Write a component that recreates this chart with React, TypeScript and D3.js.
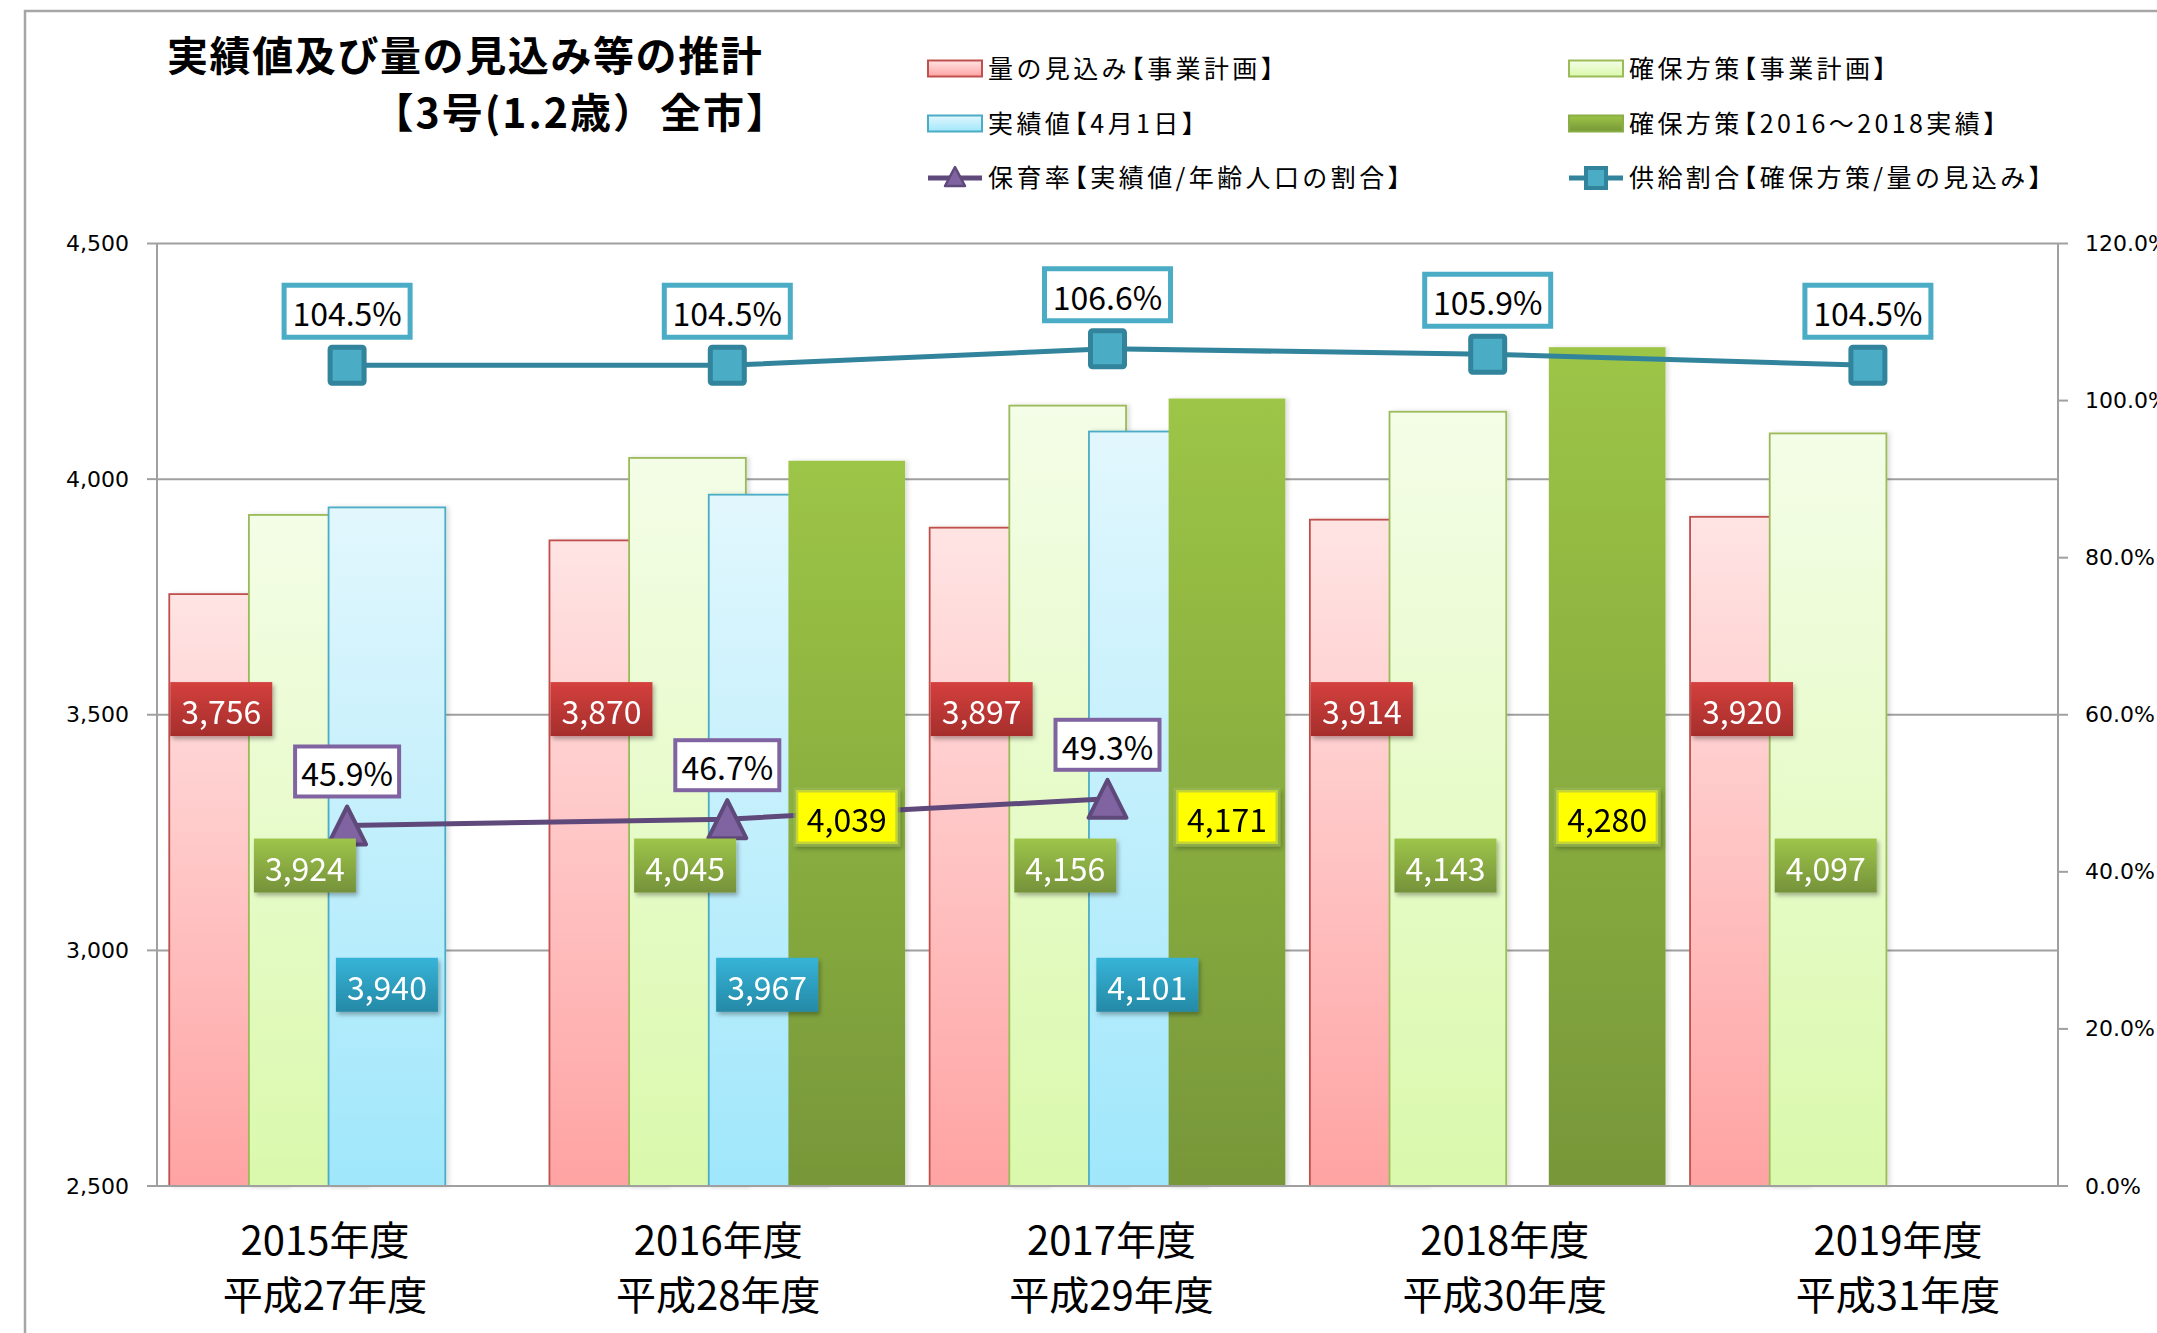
import React from 'react';
import * as d3 from 'd3';

// ---------------- data ----------------
const categories = ['2015年度', '2016年度', '2017年度', '2018年度', '2019年度'];
const eraLabels = ['平成27年度', '平成28年度', '平成29年度', '平成30年度', '平成31年度'];
const demandPlan = [3756, 3870, 3897, 3914, 3920]; // 量の見込み【事業計画】
const supplyPlan = [3924, 4045, 4156, 4143, 4097]; // 確保方策【事業計画】
const actualEnrolled: (number | null)[] = [3940, 3967, 4101, null, null]; // 実績値【4月1日】
const supplyActual: (number | null)[] = [null, 4039, 4171, 4280, null]; // 確保方策【2016～2018実績】
const nurseryRate: (number | null)[] = [0.459, 0.467, 0.493, null, null]; // 保育率
const supplyRatio = [1.045, 1.045, 1.066, 1.059, 1.045]; // 供給割合
const leftDomain = [2500, 4500];
const rightDomain = [0, 1.2];
const titleLine1 = '実績値及び量の見込み等の推計';
const titleLine2a = '【3号(1.2歳）';
const titleLine2b = '全市】';
const legendLabels = [
  '量の見込み【事業計画】',
  '確保方策【事業計画】',
  '実績値【4月1日】',
  '確保方策【2016～2018実績】',
  '保育率【実績値/年齢人口の割合】',
  '供給割合【確保方策/量の見込み】',
];

// ---------------- layout / style ----------------
const W = 2157;
const H = 1333;
const PL = 157, PR = 2058, PT = 243.5, PB = 1186;
const JP = "'Noto Sans CJK JP', 'Noto Sans', sans-serif";
const AX = "'DejaVu Sans', Verdana, sans-serif";

const barStyles = [
  { grad: 'gRed', stroke: '#C0504D', label: 'lRed', text: '#fff', labelLevel: 3512, labelMode: 'left' },
  { grad: 'gLGreen', stroke: '#9BBB59', label: 'lGreen', text: '#fff', labelLevel: 3180, labelMode: 'left' },
  { grad: 'gBlue', stroke: '#4BACC6', label: 'lBlue', text: '#fff', labelLevel: 2927, labelMode: 'center' },
  { grad: 'gDGreen', stroke: 'none', label: 'lYellow', text: '#000', labelLevel: 3283, labelMode: 'center' },
];
const barData = [demandPlan, supplyPlan, actualEnrolled, supplyActual];

// tighten the opening lenticular bracket like a proportional CJK font
const jp = (s: string) =>
  s.split(/(【)/).filter((p) => p !== '').map((p, k) =>
    p === '【' ? (
      <tspan key={k} dx="-0.45em">
        【
      </tspan>
    ) : (
      <tspan key={k}>{p}</tspan>
    )
  );

export default function App() {
  const x = d3.scaleBand<string>().domain(categories).range([PL, PR]).padding(0);
  const y = d3.scaleLinear().domain(leftDomain).range([PB, PT]);
  const y2 = d3.scaleLinear().domain(rightDomain).range([PB, PT]);
  const catLabelX = d3.scalePoint<string>().domain(categories).range([325, 1898]);

  const bw = x.bandwidth();
  const barW = bw * 0.307;
  const step = bw * 0.2095;
  const pad = (bw - (3 * step + barW)) / 2;
  const barLeft = (cat: string, s: number) => (x(cat) as number) + pad + s * step;
  const cx = (cat: string) => (x(cat) as number) + bw / 2;

  const leftTicks = y.ticks(4);
  const rightTicks = y2.ticks(6);
  const fmt = d3.format(',');
  const pfmt = d3.format('.1%');

  const lineGen = d3
    .line<number | null>()
    .defined((d) => d != null)
    .x((_, i) => cx(categories[i]))
    .y((d) => y2(d as number));

  const valueLabel = (key: string, lx: number, ly: number, txt: string, fill: string, color: string, border?: string) => (
    <g key={key} filter="url(#shadow)">
      <rect x={lx - 51} y={ly - 27} width={102} height={54} fill={fill} stroke={border || 'none'} strokeWidth={border ? 5 : 0} strokeOpacity={0.6} />
      <text x={lx} y={ly + 1} textAnchor="middle" dominantBaseline="central" fontFamily={JP} fontSize={32} fill={color}>
        {txt}
      </text>
    </g>
  );

  return (
    <svg width={W} height={H} style={{ position: 'absolute', left: 0, top: 0, background: '#fff' }}>
      <defs>
        <linearGradient id="gRed" x1="0" y1="0" x2="0" y2="1">
          <stop offset="0" stopColor="#FFE4E4" />
          <stop offset="1" stopColor="#FFA3A3" />
        </linearGradient>
        <linearGradient id="gLGreen" x1="0" y1="0" x2="0" y2="1">
          <stop offset="0" stopColor="#F4FDE7" />
          <stop offset="1" stopColor="#DAF9AC" />
        </linearGradient>
        <linearGradient id="gBlue" x1="0" y1="0" x2="0" y2="1">
          <stop offset="0" stopColor="#E2F7FD" />
          <stop offset="1" stopColor="#A0E7FB" />
        </linearGradient>
        <linearGradient id="gDGreen" x1="0" y1="0" x2="0" y2="1">
          <stop offset="0" stopColor="#9DC546" />
          <stop offset="1" stopColor="#779739" />
        </linearGradient>
        <linearGradient id="lRed" x1="0" y1="0" x2="0" y2="1">
          <stop offset="0" stopColor="#D4403D" />
          <stop offset="1" stopColor="#A52E2C" />
        </linearGradient>
        <linearGradient id="lGreen" x1="0" y1="0" x2="0" y2="1">
          <stop offset="0" stopColor="#9EC54A" />
          <stop offset="1" stopColor="#75923A" />
        </linearGradient>
        <linearGradient id="lBlue" x1="0" y1="0" x2="0" y2="1">
          <stop offset="0" stopColor="#36B4D8" />
          <stop offset="1" stopColor="#2589A6" />
        </linearGradient>
        <filter id="shadow" x="-20%" y="-20%" width="140%" height="150%">
          <feDropShadow dx="2" dy="3" stdDeviation="2" floodColor="#000" floodOpacity="0.3" />
        </filter>
        <filter id="barShadow" x="-10%" y="-5%" width="125%" height="110%">
          <feDropShadow dx="3" dy="0" stdDeviation="2" floodColor="#000" floodOpacity="0.12" />
        </filter>
      </defs>

      {/* outer frame */}
      <path d={`M25,${H} V11 H${W}`} fill="none" stroke="#A6A6A6" strokeWidth={2.5} />

      {/* title */}
      <text x={167} y={53} dominantBaseline="central" fontFamily={JP} fontWeight="bold" fontSize={41} letterSpacing={1.6} fill="#000">
        {titleLine1}
      </text>
      <text x={391} y={110} dominantBaseline="central" fontFamily={JP} fontWeight="bold" fontSize={41} letterSpacing={2} fill="#000">
        {jp(titleLine2a)}
        <tspan dx={4}>{titleLine2b}</tspan>
      </text>

      {/* legend */}
      {legendLabels.map((lab, i) => {
        const col = i % 2;
        const row = Math.floor(i / 2);
        const sx = col === 0 ? 928 : 1569;
        const ry = [68.5, 123.5, 178][row];
        let sw: React.ReactNode;
        if (i < 4) {
          const st = barStyles[i];
          sw = <rect x={sx} y={ry - 8} width={54} height={16} fill={`url(#${st.grad})`} stroke={i === 3 ? '#8AAE46' : st.stroke} strokeWidth={2} />;
        } else if (i === 4) {
          sw = (
            <g>
              <line x1={sx} x2={sx + 54} y1={ry} y2={ry} stroke="#5F497A" strokeWidth={5} />
              <path d={`M${sx + 27},${ry - 11} L${sx + 37},${ry + 8} L${sx + 17},${ry + 8} Z`} fill="#8064A2" stroke="#5F497A" strokeWidth={2.5} strokeLinejoin="round" />
            </g>
          );
        } else {
          sw = (
            <g>
              <line x1={sx} x2={sx + 54} y1={ry} y2={ry} stroke="#31849B" strokeWidth={5} />
              <rect x={sx + 17} y={ry - 10} width={20} height={20} fill="#4BACC6" stroke="#31849B" strokeWidth={4} />
            </g>
          );
        }
        return (
          <g key={lab}>
            {sw}
            <text x={sx + 60} y={ry - 2} dominantBaseline="central" fontFamily={JP} fontSize={25} letterSpacing={3.4} fill="#000">
              {jp(lab)}
            </text>
          </g>
        );
      })}

      {/* gridlines */}
      {leftTicks.map((t) => (
        <line key={'g' + t} x1={PL} x2={PR} y1={y(t)} y2={y(t)} stroke="#A0A0A0" strokeWidth={2} />
      ))}

      {/* bars */}
      {barData.map((vals, s) =>
        vals.map((v, i) => {
          if (v == null) return null;
          const st = barStyles[s];
          const bx = barLeft(categories[i], s);
          return (
            <rect
              key={`b${s}-${i}`}
              x={bx}
              y={y(v)}
              width={barW}
              height={y(leftDomain[0]) - y(v)}
              fill={`url(#${st.grad})`}
              stroke={st.stroke}
              strokeWidth={1.8}
              filter="url(#barShadow)"
            />
          );
        })
      )}

      {/* axes */}
      <line x1={PL} x2={PL} y1={PT} y2={PB} stroke="#A0A0A0" strokeWidth={2} />
      <line x1={PR} x2={PR} y1={PT} y2={PB} stroke="#A0A0A0" strokeWidth={2} />
      <line x1={PL} x2={PR} y1={PB} y2={PB} stroke="#A0A0A0" strokeWidth={2} />
      {leftTicks.map((t) => (
        <g key={'lt' + t}>
          <line x1={PL - 10} x2={PL} y1={y(t)} y2={y(t)} stroke="#A0A0A0" strokeWidth={2} />
          <text x={129} y={y(t)} textAnchor="end" dominantBaseline="central" fontFamily={AX} fontSize={22} fill="#000">
            {fmt(t)}
          </text>
        </g>
      ))}
      {rightTicks.map((t) => (
        <g key={'rt' + t}>
          <line x1={PR} x2={PR + 10} y1={y2(t)} y2={y2(t)} stroke="#A0A0A0" strokeWidth={2} />
          <text x={2085} y={y2(t)} dominantBaseline="central" fontFamily={AX} fontSize={22} fill="#000">
            {pfmt(t)}
          </text>
        </g>
      ))}

      {/* category labels */}
      {categories.map((c, i) => (
        <g key={'c' + c}>
          <text x={catLabelX(c)} y={1238} textAnchor="middle" dominantBaseline="central" fontFamily={JP} fontSize={40} fill="#000">
            {c}
          </text>
          <text x={catLabelX(c)} y={1293} textAnchor="middle" dominantBaseline="central" fontFamily={JP} fontSize={40} fill="#000">
            {eraLabels[i]}
          </text>
        </g>
      ))}

      {/* lines */}
      <path d={lineGen(supplyRatio) || ''} fill="none" stroke="#31849B" strokeWidth={5} />
      {supplyRatio.map((v, i) => (
        <rect key={'sq' + i} x={cx(categories[i]) - 17} y={y2(v) - 18} width={34} height={36} fill="#4BACC6" stroke="#31849B" strokeWidth={5} rx={2} />
      ))}
      <path d={lineGen(nurseryRate) || ''} fill="none" stroke="#5F497A" strokeWidth={5} />
      {nurseryRate.map((v, i) => {
        if (v == null) return null;
        const px = cx(categories[i]);
        const py = y2(v);
        return <path key={'tr' + i} d={`M${px},${py - 19} L${px + 19},${py + 19} L${px - 19},${py + 19} Z`} fill="#8064A2" stroke="#5F497A" strokeWidth={4} strokeLinejoin="round" />;
      })}

      {/* bar value labels */}
      {barData.map((vals, s) =>
        vals.map((v, i) => {
          if (v == null) return null;
          const st = barStyles[s];
          const bx = barLeft(categories[i], s);
          const lx = st.labelMode === 'left' ? bx + (s === 0 ? 52 : 56) : bx + barW / 2;
          const ly = y(st.labelLevel);
          const fill = s === 3 ? '#FFFF00' : `url(#${st.label})`;
          return valueLabel(`vl${s}-${i}`, lx, ly, fmt(v), fill, st.text, s === 3 ? '#9BBB59' : undefined);
        })
      )}

      {/* line labels */}
      {nurseryRate.map((v, i) => {
        if (v == null) return null;
        const px = cx(categories[i]);
        const py = y2(v) - 54;
        return (
          <g key={'nl' + i}>
            <rect x={px - 52} y={py - 25} width={104} height={50} fill="#fff" stroke="#8064A2" strokeWidth={4} />
            <text x={px} y={py + 1} textAnchor="middle" dominantBaseline="central" fontFamily={JP} fontSize={32} fill="#000">
              {pfmt(v)}
            </text>
          </g>
        );
      })}
      {supplyRatio.map((v, i) => {
        const px = cx(categories[i]);
        const py = y2(v) - 54;
        return (
          <g key={'sl' + i}>
            <rect x={px - 63} y={py - 26} width={126} height={52} fill="#fff" stroke="#4BACC6" strokeWidth={5} />
            <text x={px} y={py + 1} textAnchor="middle" dominantBaseline="central" fontFamily={JP} fontSize={32} fill="#000">
              {pfmt(v)}
            </text>
          </g>
        );
      })}
    </svg>
  );
}
